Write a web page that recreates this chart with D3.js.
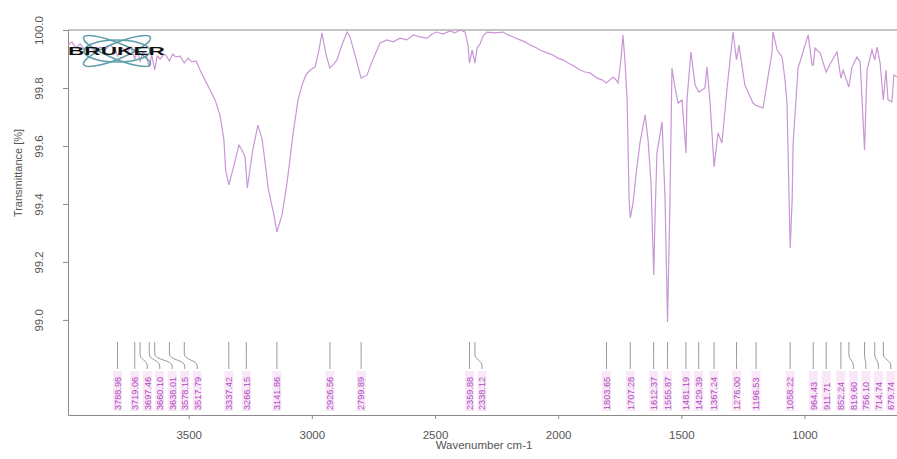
<!DOCTYPE html>
<html>
<head>
<meta charset="utf-8">
<script src="https://cdn.jsdelivr.net/npm/d3@7"></script>
<style>
  body { margin: 0; background: #fff; }
  svg { font-family: "Liberation Sans", Arial, sans-serif; }
  .axis path, .axis line { stroke: #8a8a8a; }
  .axis text { fill: #555; font-size: 11.5px; }
</style>
</head>
<body>
<div id="graph"></div>
<script>
// spectrum
var wavenumber = [3990, 3974, 3958, 3941, 3921, 3901, 3880, 3860, 3840, 3819, 3799, 3789, 3771, 3750, 3735,
  3719, 3708, 3697, 3686, 3672, 3660, 3650, 3638, 3628, 3616, 3600, 3590, 3578, 3565, 3552, 3535, 3518,
  3503, 3487, 3470, 3454, 3434, 3413, 3393, 3373, 3357, 3350, 3337, 3316, 3296, 3284, 3271, 3262, 3240,
  3219, 3202, 3186, 3178, 3170, 3154, 3142, 3121, 3101, 3089, 3076, 3056, 3040, 3024, 3007, 2987, 2971,
  2959, 2942, 2927, 2910, 2898, 2878, 2857, 2845, 2825, 2800, 2776, 2756, 2739, 2723, 2695, 2670, 2642,
  2614, 2589, 2561, 2532, 2512, 2492, 2468, 2439, 2419, 2398, 2378, 2366, 2360, 2349, 2338, 2329, 2317,
  2305, 2289, 2256, 2224, 2204, 2183, 2155, 2135, 2114, 2094, 2074, 2045, 2021, 2001, 1980, 1960, 1936,
  1911, 1891, 1871, 1842, 1822, 1804, 1790, 1777, 1765, 1757, 1745, 1737, 1729, 1720, 1712, 1707, 1696,
  1684, 1668, 1647, 1635, 1623, 1612, 1607, 1599, 1578, 1566, 1556, 1546, 1538, 1526, 1513, 1497, 1481,
  1477, 1461, 1444, 1429, 1404, 1396, 1384, 1367, 1351, 1335, 1315, 1290, 1276, 1266, 1242, 1209, 1197,
  1168, 1148, 1132, 1128, 1111, 1091, 1079, 1071, 1058, 1050, 1046, 1026, 1006, 985, 969, 964, 957, 937,
  912, 896, 868, 852, 843, 820, 807, 787, 774, 756, 750, 746, 726, 715, 705, 693, 680, 669, 661, 645, 637, 624];
var transmittance = [99.948, 99.959, 99.938, 99.952, 99.931, 99.945, 99.924, 99.941, 99.931, 99.948, 99.934,
  99.910, 99.938, 99.924, 99.941, 99.900, 99.931, 99.893, 99.924, 99.910, 99.872, 99.914, 99.862, 99.910,
  99.900, 99.917, 99.910, 99.893, 99.917, 99.907, 99.910, 99.886, 99.903, 99.890, 99.893, 99.862, 99.828,
  99.793, 99.759, 99.707, 99.621, 99.517, 99.466, 99.534, 99.603, 99.586, 99.562, 99.455, 99.586, 99.672,
  99.624, 99.517, 99.459, 99.424, 99.362, 99.303, 99.362, 99.472, 99.552, 99.645, 99.759, 99.810, 99.845,
  99.862, 99.872, 99.931, 99.990, 99.914, 99.869, 99.883, 99.897, 99.948, 99.993, 99.976, 99.914, 99.834,
  99.845, 99.890, 99.924, 99.955, 99.966, 99.959, 99.972, 99.966, 99.983, 99.976, 99.972, 99.986, 99.993,
  99.986, 99.997, 99.990, 100.000, 99.993, 99.948, 99.886, 99.931, 99.886, 99.938, 99.952, 99.979, 99.993,
  99.990, 99.993, 99.983, 99.976, 99.966, 99.959, 99.948, 99.941, 99.931, 99.921, 99.914, 99.903, 99.897,
  99.886, 99.876, 99.862, 99.855, 99.852, 99.834, 99.828, 99.817, 99.828, 99.838, 99.828, 99.817, 99.897,
  99.983, 99.897, 99.759, 99.414, 99.352, 99.403, 99.500, 99.610, 99.707, 99.621, 99.472, 99.155, 99.345,
  99.576, 99.683, 99.414, 98.993, 99.414, 99.869, 99.803, 99.748, 99.759, 99.576, 99.759, 99.924, 99.810,
  99.786, 99.800, 99.872, 99.759, 99.528, 99.645, 99.610, 99.793, 99.993, 99.897, 99.948, 99.810, 99.748,
  99.740, 99.731, 99.838, 99.921, 99.993, 99.931, 99.907, 99.828, 99.748, 99.248, 99.414, 99.610, 99.869,
  99.924, 99.983, 99.879, 99.879, 99.938, 99.921, 99.855, 99.883, 99.924, 99.834, 99.862, 99.803, 99.872,
  99.907, 99.890, 99.586, 99.759, 99.862, 99.931, 99.897, 99.941, 99.886, 99.759, 99.862, 99.759, 99.752,
  99.845, 99.838];

// picked peaks
var peakLabels = ["3788.98", "3719.06", "3697.46", "3660.10", "3638.01", "3578.15", "3517.79", "3337.42",
  "3266.15", "3141.86", "2926.56", "2799.89", "2359.88", "2338.12", "1803.65", "1707.28", "1612.37",
  "1555.87", "1481.19", "1429.39", "1367.24", "1276.00", "1196.53", "1058.22", "964.43", "911.71",
  "852.24", "819.60", "756.10", "714.74", "679.74"];

var xTicks = [3500, 3000, 2500, 2000, 1500, 1000];
var yTicks = [99.0, 99.2, 99.4, 99.6, 99.8, 100.0];

var width = 897, height = 459;
var plotLeft = 68, plotTop = 30, plotBottom = 415;

var svg = d3.select("div#graph")
    .append("svg")
    .attr("width", width)
    .attr("height", height);

var x = d3.scaleLinear().domain([3990, 600]).range([plotLeft, 903]);
var y = d3.scaleLinear().domain([98.672, 100]).range([plotBottom, plotTop]);

// frame top line
svg.append("line")
    .attr("x1", plotLeft).attr("x2", width)
    .attr("y1", plotTop).attr("y2", plotTop)
    .attr("stroke", "#8a8a8a");

// axes
svg.append("g")
    .attr("class", "axis")
    .attr("transform", "translate(0," + plotBottom + ")")
    .call(d3.axisBottom(x).tickValues(xTicks).tickSize(4).tickSizeOuter(0).tickPadding(12).tickFormat(d3.format("d")));

var yAxis = svg.append("g")
    .attr("class", "axis")
    .attr("transform", "translate(" + plotLeft + ",0)")
    .call(d3.axisLeft(y).tickValues(yTicks).tickSize(5).tickSizeOuter(0).tickFormat(d3.format(".1f")));
yAxis.selectAll("text")
    .attr("x", null).attr("dy", null)
    .attr("text-anchor", "middle")
    .attr("transform", "translate(-25,0) rotate(-90)");

svg.append("text")
    .attr("transform", "translate(22,173) rotate(-90)")
    .attr("text-anchor", "middle")
    .attr("fill", "#555").attr("font-size", 11)
    .text("Transmittance [%]");

svg.append("text")
    .attr("x", 484).attr("y", 449)
    .attr("text-anchor", "middle")
    .attr("fill", "#555").attr("font-size", 11.5)
    .text("Wavenumber cm-1");

// spectrum
var spectrum = wavenumber.map(function(w, i) { return [w, transmittance[i]]; });
svg.append("path")
    .datum(spectrum)
    .attr("fill", "none")
    .attr("stroke", "#c897d4")
    .attr("stroke-width", 1.2)
    .attr("d", d3.line().x(function(d) { return x(d[0]); }).y(function(d) { return y(d[1]); }));

// peak labels: push crowded ones to the right
var minGap = 12.5;
var peaks = peakLabels.map(function(s) { return {label: s, px: x(+s)}; })
    .sort(function(a, b) { return a.px - b.px; });
var prev = -Infinity;
peaks.forEach(function(p) {
    p.lx = Math.max(p.px, prev + minGap);
    prev = p.lx;
});

var marks = svg.append("g");
marks.selectAll("rect")
    .data(peaks).enter().append("rect")
    .attr("x", function(d) { return d.lx - 4.5; })
    .attr("y", 371).attr("width", 9).attr("height", 40)
    .attr("fill", "#f8e8f8");
marks.selectAll("path")
    .data(peaks).enter().append("path")
    .attr("fill", "none").attr("stroke", "#999").attr("stroke-width", 1)
    .attr("d", function(d) {
        return "M" + d.px + ",342V354C" + d.px + ",360 " + d.lx + ",360 " + d.lx + ",366V369";
    });
marks.selectAll("text")
    .data(peaks).enter().append("text")
    .attr("transform", function(d) { return "translate(" + (d.lx + 3.3) + ",410) rotate(-90)"; })
    .attr("fill", "#b24cc0")
    .attr("font-size", 9.2)
    .text(function(d) { return d.label; });

// Bruker logo
var logo = svg.append("g").attr("transform", "translate(117,51)");
[[0, 33, 11], [22, 36, 8], [-22, 36, 8]].forEach(function(e) {
    logo.append("ellipse")
        .attr("rx", e[1]).attr("ry", e[2])
        .attr("transform", "rotate(" + e[0] + ")")
        .attr("fill", "none").attr("stroke", "#5f9eaa").attr("stroke-width", 1.6);
});
svg.append("text")
    .attr("x", 68).attr("y", 55)
    .attr("font-size", 10).attr("font-weight", "bold")
    .attr("textLength", 97).attr("lengthAdjust", "spacingAndGlyphs")
    .attr("fill", "#111")
    .text("BRUKER");
</script>
</body>
</html>
